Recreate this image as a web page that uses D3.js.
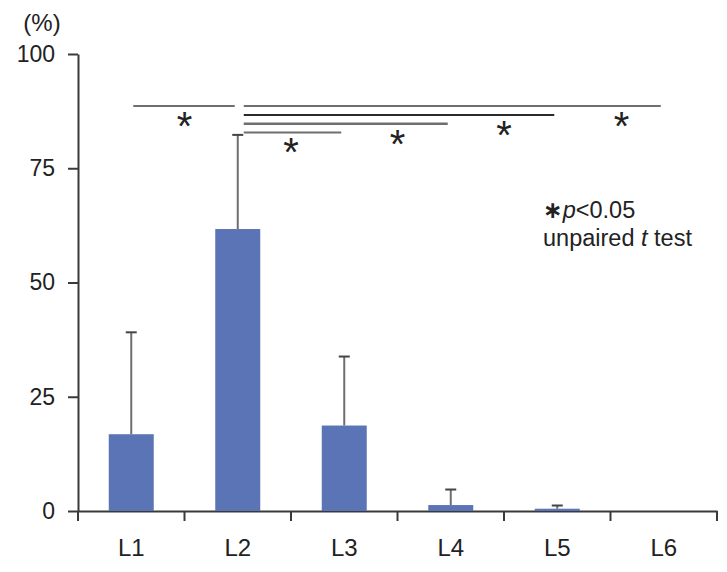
<!DOCTYPE html>
<html>
<head>
<meta charset="utf-8">
<script src="https://cdn.jsdelivr.net/npm/d3@7"></script>
<style>
  body { margin: 0; background: #fff; }
  svg { font-family: "Liberation Sans", Arial, sans-serif; }
</style>
</head>
<body>
<svg id="chart" width="727" height="572"></svg>
<script>
// data
var categories = ["L1", "L2", "L3", "L4", "L5", "L6"];
var means = [16.8, 61.7, 18.7, 1.3, 0.5, 0];
var sds = [22.3, 20.6, 15.1, 3.4, 0.7, 0];
var yTicks = [0, 25, 50, 75, 100];

// significance brackets (all p<0.05)
var bracketFrom = ["L1", "L2", "L2", "L2", "L2"];
var bracketTo = ["L2", "L6", "L5", "L4", "L3"];
var bracketRow = [0, 0, 1, 2, 3];

var svg = d3.select("#chart");

var x = d3.scaleBand().domain(categories).range([78, 717]).padding(0);
var y = d3.scaleLinear().domain([0, 100]).range([511, 54]);
var bw = x.bandwidth();
var barW = 45;
var cx = function (c) { return x(c) + bw / 2; };

var axisColor = "#3a3a3a";

// y axis
var yAxis = svg.append("g")
    .attr("transform", "translate(78,0)")
    .call(d3.axisLeft(y).tickValues(yTicks).tickSize(10).tickSizeOuter(0).tickPadding(13));
yAxis.select(".domain").attr("stroke", axisColor).attr("stroke-width", 2);
yAxis.selectAll(".tick line").attr("stroke", axisColor).attr("stroke-width", 2);
yAxis.selectAll(".tick text")
    .attr("fill", "#222")
    .style("font-size", "23px")
    .style("font-family", "Liberation Sans, Arial, sans-serif");

// stub of y axis below x axis
svg.append("line")
    .attr("x1", 78).attr("x2", 78)
    .attr("y1", y(0)).attr("y2", y(0) + 10)
    .attr("stroke", axisColor).attr("stroke-width", 2);

// x axis
var xAxis = svg.append("g")
    .attr("transform", "translate(0," + y(0) + ")")
    .call(d3.axisBottom(x).tickSize(0).tickSizeOuter(0).tickPadding(28));
xAxis.select(".domain").attr("stroke", axisColor).attr("stroke-width", 2);
xAxis.selectAll(".tick text")
    .attr("fill", "#222")
    .style("font-size", "24px")
    .style("font-family", "Liberation Sans, Arial, sans-serif");

// boundary ticks
svg.selectAll(".xb")
    .data(categories)
    .enter().append("line")
    .attr("class", "xb")
    .attr("x1", function (d) { return x(d) + bw; })
    .attr("x2", function (d) { return x(d) + bw; })
    .attr("y1", y(0))
    .attr("y2", y(0) + 10)
    .attr("stroke", axisColor).attr("stroke-width", 2);

svg.append("text")
    .attr("x", 42).attr("y", 31)
    .attr("text-anchor", "middle")
    .attr("fill", "#222")
    .style("font-size", "24px")
    .text("(%)");

// error bars (upper only)
var rows = categories.map(function (c, i) { return { c: c, m: means[i], s: sds[i] }; });
var eb = rows.filter(function (d) { return d.s > 0; });

svg.selectAll(".err")
    .data(eb)
    .enter().append("line")
    .attr("class", "err")
    .attr("x1", function (d) { return cx(d.c); })
    .attr("x2", function (d) { return cx(d.c); })
    .attr("y1", function (d) { return y(d.m); })
    .attr("y2", function (d) { return y(d.m + d.s); })
    .attr("stroke", "#6e6e6e").attr("stroke-width", 2);

svg.selectAll(".cap")
    .data(eb)
    .enter().append("line")
    .attr("class", "cap")
    .attr("x1", function (d) { return cx(d.c) - 5.5; })
    .attr("x2", function (d) { return cx(d.c) + 5.5; })
    .attr("y1", function (d) { return y(d.m + d.s); })
    .attr("y2", function (d) { return y(d.m + d.s); })
    .attr("stroke", "#444").attr("stroke-width", 2);

// bars
svg.selectAll(".bar")
    .data(rows.filter(function (d) { return d.m > 0; }))
    .enter().append("rect")
    .attr("class", "bar")
    .attr("x", function (d) { return cx(d.c) - barW / 2; })
    .attr("width", barW)
    .attr("y", function (d) { return y(d.m); })
    .attr("height", function (d) { return y(0) - y(d.m); })
    .attr("fill", "#5b74b5");

// brackets
var topLine = y(88.6);
var rowStep = 8.8;
bracketFrom.forEach(function (f, i) {
    var t = bracketTo[i];
    var ly = topLine + bracketRow[i] * rowStep;
    var x1 = cx(f) + (f === "L1" ? 2 : 6);
    var x2 = cx(t) - 3;
    svg.append("line")
        .attr("x1", x1).attr("x2", x2)
        .attr("y1", ly).attr("y2", ly)
        .attr("stroke", i === 2 ? "#2a2a2a" : "#6f6f6f")
        .attr("stroke-width", i === 3 ? 2.6 : 2);
    var fs = 40;
    svg.append("text")
        .attr("x", x(t) + (t === "L6" ? 11 : 0))
        .attr("y", ly + 16 + fs * 0.45)
        .attr("text-anchor", "middle")
        .attr("fill", "#222")
        .style("font-size", fs + "px")
        .text("*");
});

// legend
var lg = svg.append("g").attr("fill", "#222").style("font-size", "23.5px");
var l1 = lg.append("text").attr("x", 543).attr("y", 218);
l1.append("tspan").style("font-family", "DejaVu Sans, sans-serif").style("font-weight", "bold").text("\u2217");
l1.append("tspan").style("font-style", "italic").text("p");
l1.append("tspan").text("<0.05");
var l2 = lg.append("text").attr("x", 543).attr("y", 246);
l2.append("tspan").text("unpaired ");
l2.append("tspan").style("font-style", "italic").text("t");
l2.append("tspan").text(" test");
</script>
</body>
</html>
